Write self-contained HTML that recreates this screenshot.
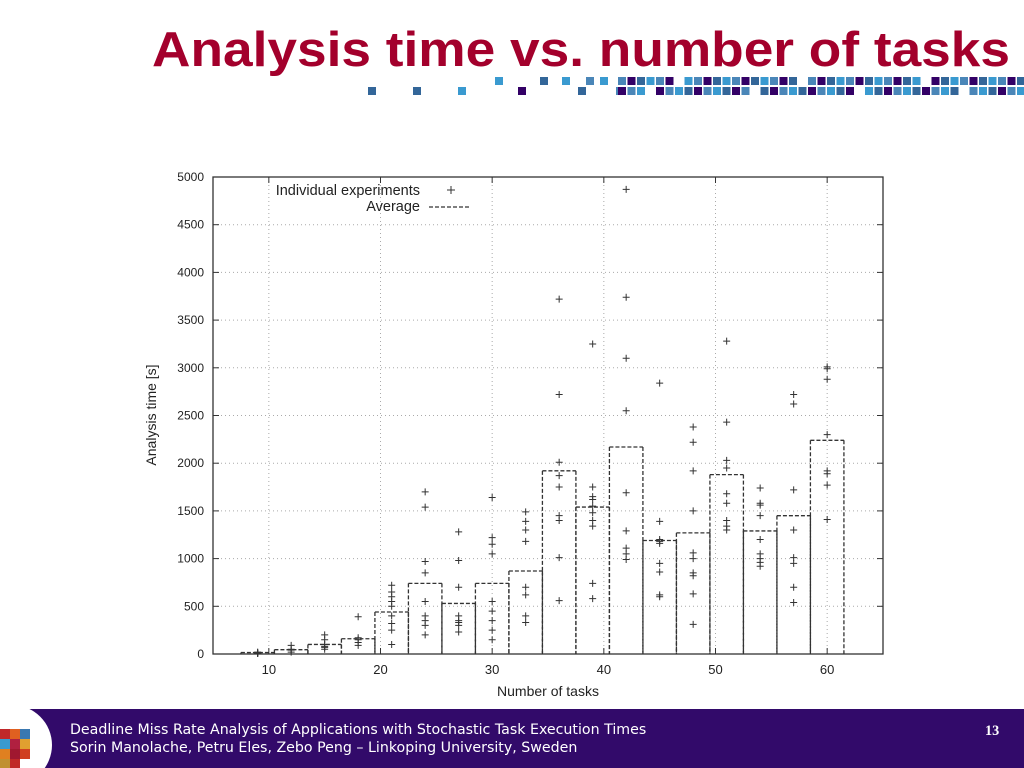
<!DOCTYPE html>
<html><head><meta charset="utf-8"><style>
body{margin:0;width:1024px;height:768px;overflow:hidden;background:#fff;font-family:"Liberation Sans",sans-serif;position:relative}
#footer{position:absolute;left:0;top:709px;width:1024px;height:59px;background:#320a6a}
.ft{position:absolute;color:#fff;font:14.2px "DejaVu Sans","Liberation Sans",sans-serif;white-space:nowrap}
</style></head><body>
<svg width="1024" height="80" style="position:absolute;left:0;top:0">
 <text x="152" y="66" textLength="858" lengthAdjust="spacingAndGlyphs" font-family="Liberation Sans, sans-serif" font-weight="bold" font-size="49" fill="#a3002c">Analysis time vs. number of tasks</text>
</svg>
<svg id="decor" width="1024" height="100" style="position:absolute;left:0;top:0"></svg>
<svg id="chart" width="1024" height="709" style="position:absolute;left:0;top:0" font-family="Liberation Sans, sans-serif"></svg>
<div id="footer">
 <svg width="60" height="59" style="position:absolute;left:0;top:0">
  <circle cx="12" cy="36" r="40" fill="#fff"/>
  <rect x="0" y="20" width="10" height="10" fill="#c0282a"/><rect x="10" y="20" width="10" height="10" fill="#e06020"/><rect x="20" y="20" width="10" height="10" fill="#3a78b0"/>
  <rect x="0" y="30" width="10" height="10" fill="#3a9ad0"/><rect x="10" y="30" width="10" height="10" fill="#b02040"/><rect x="20" y="30" width="10" height="10" fill="#e0a030"/>
  <rect x="0" y="40" width="10" height="10" fill="#e08020"/><rect x="10" y="40" width="10" height="10" fill="#a01830"/><rect x="20" y="40" width="10" height="10" fill="#d04020"/>
  <rect x="0" y="50" width="10" height="10" fill="#c09030"/><rect x="10" y="50" width="10" height="10" fill="#c02828"/>
 </svg>
 <div class="ft" style="left:70px;top:13px">Deadline Miss Rate Analysis of Applications with Stochastic Task Execution Times</div>
 <div class="ft" style="left:70px;top:31px">Sorin Manolache, Petru Eles, Zebo Peng – Linkoping University, Sweden</div>
 <div class="ft" style="left:985px;top:14px;font-family:'Liberation Serif',serif;font-weight:bold">13</div>
</div>
<script>
const avgTasks=[9,12,15,18,21,24,27,30,33,36,39,42,45,48,51,54,57,60];
const avgValues=[15,45,100,160,440,740,530,740,870,1920,1540,2170,1190,1270,1880,1290,1450,2240];
const expValues=[
[5,10,15,20,5],[20,40,50,90],[50,70,80,100,150,200],[90,120,150,170,390],
[100,250,320,400,500,550,600,650,720],[200,300,350,400,550,850,970,1540,1700],
[230,300,330,350,400,700,980,1280],[150,250,350,450,550,1050,1150,1220,1640],
[330,400,620,700,1180,1300,1390,1490],[560,1010,1400,1450,1750,1870,2010,2720,3720],
[580,740,1340,1400,1480,1550,1620,1650,1750,3250],[990,1050,1110,1290,1690,2550,3100,3740,4870],
[600,620,860,950,1160,1180,1200,1390,2840],[310,630,820,850,1000,1060,1500,1920,2220,2380],
[1300,1340,1400,1580,1680,1950,2030,2430,3280],[920,960,1000,1050,1200,1450,1560,1580,1740],
[540,700,950,1010,1300,1720,2620,2720],[1410,1770,1890,1920,2300,2880,2990,3010]];
const xTicks=[10,20,30,40,50,60];
const yTicks=[0,500,1000,1500,2000,2500,3000,3500,4000,4500,5000];
const NS="http://www.w3.org/2000/svg";
const L=213,R=883,T=177,B=654,xmin=5,xmax=65,ymax=5000;
const X=v=>L+(v-xmin)/(xmax-xmin)*(R-L);
const Y=v=>B-v/ymax*(B-T);
const svg=document.getElementById('chart');
function mk(tag,a,p){const e=document.createElementNS(NS,tag);for(const k in a)e.setAttribute(k,a[k]);(p||svg).appendChild(e);return e;}
yTicks.forEach(t=>{
 if(t>0&&t<5000){const g=mk('line',{x1:L,x2:R,y1:Y(t),y2:Y(t),stroke:'#aaa','stroke-dasharray':'1,3'});
 
 }
 mk('line',{x1:L,x2:L+6,y1:Y(t),y2:Y(t),stroke:'#333'});mk('line',{x1:R,x2:R-6,y1:Y(t),y2:Y(t),stroke:'#333'});
 const tx=mk('text',{x:L-9,y:Y(t)+4,'text-anchor':'end','font-size':12,fill:'#222'});tx.textContent=t;
 
 
});
xTicks.forEach(t=>{
 const g=mk('line',{x1:X(t),x2:X(t),y1:T,y2:B,stroke:'#aaa','stroke-dasharray':'1,3'});
 
 
 mk('line',{x1:X(t),x2:X(t),y1:B,y2:B-6,stroke:'#333'});mk('line',{x1:X(t),x2:X(t),y1:T,y2:T+6,stroke:'#333'});
 const tx=mk('text',{x:X(t),y:B+20,'text-anchor':'middle','font-size':13,fill:'#222'});tx.textContent=t;
 
 
});
avgTasks.forEach((c,i)=>{
 const x0=X(c-1.5),x1=X(c+1.5),y=Y(avgValues[i]);
 const g=mk('g',{});
 
 
 mk('line',{x1:x0,x2:x1,y1:y,y2:y,stroke:'#333','stroke-width':1.3,'stroke-dasharray':'4,2'},g);
 mk('line',{x1:x0,x2:x0,y1:y,y2:B,stroke:'#333','stroke-width':1.3,'stroke-dasharray':'4,2'},g);
 mk('line',{x1:x1,x2:x1,y1:y,y2:B,stroke:'#333','stroke-width':1.3,'stroke-dasharray':'4,2'},g);
});
expValues.forEach((arr,i)=>{arr.forEach(v=>{
 const x=X(avgTasks[i]),y=Y(v);
 const p=mk('path',{d:`M${x-3.5},${y}H${x+3.5}M${x},${y-3.5}V${y+3.5}`,stroke:'#333','stroke-width':1});
 
 
});});
const fr=mk('rect',{x:L,y:T,width:R-L,height:B-T,fill:'none',stroke:'#333','stroke-width':1.3});


let t1=mk('text',{x:420,y:195,'text-anchor':'end','font-size':14.5,fill:'#222'});t1.textContent='Individual experiments';


mk('path',{d:'M447,190H455M451,186V194',stroke:'#333'});
let t2=mk('text',{x:420,y:211,'text-anchor':'end','font-size':14.5,fill:'#222'});t2.textContent='Average';


mk('line',{x1:429,x2:471,y1:207,y2:207,stroke:'#333','stroke-width':1.3,'stroke-dasharray':'4,2'});
let xl=mk('text',{x:548,y:696,'text-anchor':'middle','font-size':14,fill:'#222'});xl.textContent='Number of tasks';


let yl=mk('text',{x:0,y:0,'text-anchor':'middle','font-size':14,fill:'#222',transform:'translate(156,415) rotate(-90)'});yl.textContent='Analysis time [s]';


const d=document.getElementById('decor');
const cols=['#3a9ad0','#336699','#330066','#4a86b8'];
const row1=[[368,1],[413,1],[458,0],[518,2],[578,1],[616,3]],row2=[[495,0],[540,1],[562,0],[586,3],[600,0]];
function sq(x,y,c){const r=document.createElementNS(NS,'rect');r.setAttribute('x',x);r.setAttribute('y',y);r.setAttribute('width',8);r.setAttribute('height',8);r.setAttribute('fill',c);d.appendChild(r);}
row1.forEach(p=>sq(p[0],87,cols[p[1]]));row2.forEach(p=>sq(p[0],77,cols[p[1]]));
let k=0;for(let x=618;x<1020;x+=9.5){k++;if(k%13!==7)sq(x,77,cols[(k*7)%4]);if(k%11!==4)sq(x,87,cols[(k*5+1)%4]);}
</script>
</body></html>
